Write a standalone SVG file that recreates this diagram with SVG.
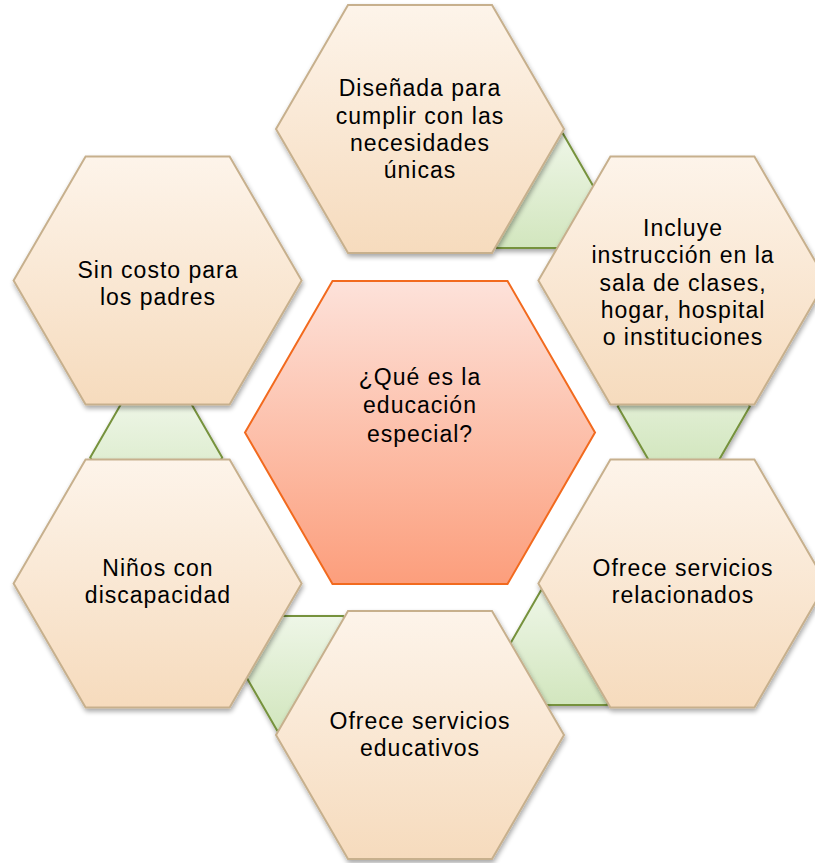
<svg xmlns="http://www.w3.org/2000/svg" width="815" height="863" viewBox="0 0 815 863">
<defs>
<linearGradient id="gPeach" x1="0" y1="0" x2="0" y2="1"><stop offset="0" stop-color="#FDF4EA"/><stop offset="1" stop-color="#F6DBBD"/></linearGradient>
<linearGradient id="gGreen" x1="0" y1="0" x2="0" y2="1"><stop offset="0" stop-color="#EEF6E7"/><stop offset="1" stop-color="#D2E6BE"/></linearGradient>
<linearGradient id="gCenter" x1="0" y1="0" x2="0" y2="1"><stop offset="0" stop-color="#FDE2DA"/><stop offset="1" stop-color="#FC9E7C"/></linearGradient>
<filter id="sh" x="-10%" y="-10%" width="125%" height="125%"><feGaussianBlur in="SourceAlpha" stdDeviation="2.5"/><feOffset dx="1" dy="3" result="o"/><feComponentTransfer><feFuncA type="linear" slope="0.35"/></feComponentTransfer><feMerge><feMergeNode/><feMergeNode in="SourceGraphic"/></feMerge></filter>
</defs>
<style>
.outer{fill:url(#gPeach);stroke:#C7B08D;stroke-width:2;filter:url(#sh)}
.green{fill:url(#gGreen);stroke:#76923C;stroke-width:2;filter:url(#sh)}
.center{fill:url(#gCenter);stroke:#F26A1E;stroke-width:2}
text{font-family:"Liberation Sans",Arial,sans-serif;font-size:23px;letter-spacing:1px;fill:#000;text-anchor:middle}
</style>
<rect width="815" height="863" fill="#FFFFFF"/>
<g id="connectors">
<polygon class="green" points="496.9,133.6 562.9,133.6 595.9,190.8 562.9,248 496.9,248 463.9,190.8"/>
<polygon class="green" points="650.8,349.4 716.8,349.4 749.8,406.6 716.8,463.8 650.8,463.8 617.8,406.6"/>
<polygon class="green" points="540.9,590.5 606.9,590.5 639.9,647.7 606.9,704.9 540.9,704.9 507.9,647.7"/>
<polygon class="green" points="277.1,616 343.1,616 376.1,673.2 343.1,730.4 277.1,730.4 244.1,673.2"/>
<polygon class="green" points="123.2,400.2 189.2,400.2 222.2,457.4 189.2,514.6 123.2,514.6 90.2,457.4"/>
</g>
<g id="node-top">
<polygon class="outer" points="348,5 492,5 564,129 492,253 348,253 276,129"/>
<text x="420" y="96">Diseñada para</text>
<text x="420" y="124">cumplir con las</text>
<text x="420" y="151">necesidades</text>
<text x="420" y="178">únicas</text>
</g>
<g id="node-topright">
<polygon class="outer" points="610.4,156.5 754.4,156.5 826.4,280.5 754.4,404.5 610.4,404.5 538.4,280.5"/>
<text x="683" y="236">Incluye</text>
<text x="683" y="263">instrucción en la</text>
<text x="683" y="291">sala de clases,</text>
<text x="683" y="318">hogar, hospital</text>
<text x="683" y="345">o instituciones</text>
</g>
<g id="node-bottomright">
<polygon class="outer" points="610.4,459.5 754.4,459.5 826.4,583.5 754.4,707.5 610.4,707.5 538.4,583.5"/>
<text x="683" y="576">Ofrece servicios</text>
<text x="683" y="603">relacionados</text>
</g>
<g id="node-bottom">
<polygon class="outer" points="348,611 492,611 564,735 492,859 348,859 276,735"/>
<text x="420" y="729">Ofrece servicios</text>
<text x="420" y="756">educativos</text>
</g>
<g id="node-bottomleft">
<polygon class="outer" points="85.6,459.5 229.6,459.5 301.6,583.5 229.6,707.5 85.6,707.5 13.6,583.5"/>
<text x="158" y="576">Niños con</text>
<text x="158" y="603">discapacidad</text>
</g>
<g id="node-topleft">
<polygon class="outer" points="85.6,156.5 229.6,156.5 301.6,280.5 229.6,404.5 85.6,404.5 13.6,280.5"/>
<text x="158" y="278">Sin costo para</text>
<text x="158" y="305">los padres</text>
</g>
<g id="node-center">
<polygon class="center" points="332.5,281 507.5,281 595,432.5 507.5,584 332.5,584 245,432.5"/>
<text x="420" y="385">¿Qué es la</text>
<text x="420" y="413">educación</text>
<text x="420" y="442">especial?</text>
</g>
</svg>
